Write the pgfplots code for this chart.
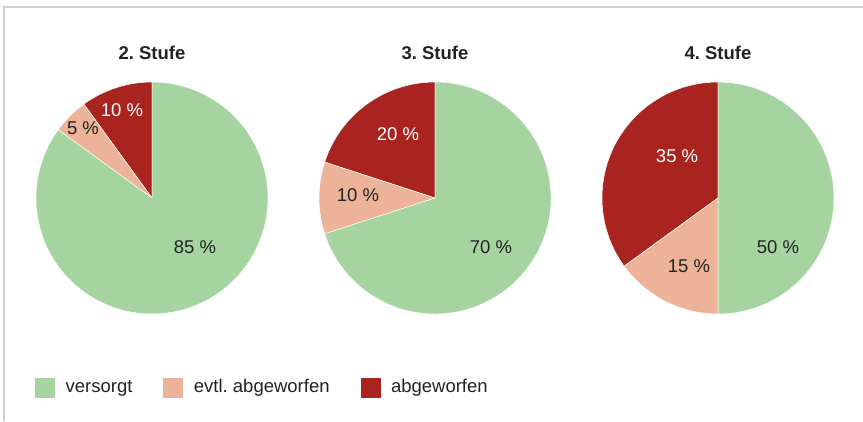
\documentclass[border=0pt]{standalone}
\usepackage{pgfplots}
\pgfplotsset{compat=1.18}
\usepackage{pgfplotstable}
\usepackage{fontspec}
\setmainfont{Liberation Sans}

\definecolor{cGreen}{HTML}{A6D4A0}
\definecolor{cSalmon}{HTML}{EDB398}
\definecolor{cRed}{HTML}{AA241F}
\definecolor{cText}{HTML}{222222}
\definecolor{cFrame}{HTML}{CFCFCF}

% shares in percent, one row per pie
\pgfplotstableread{
stufe versorgt evtl abgew
2 85 5 10
3 70 10 20
4 50 15 35
}\pies

\newcommand{\R}{116pt}
% wedges start at 12 o'clock: abgeworfen, evtl. abgeworfen, versorgt (counter-clockwise)
\newcommand{\pieslices}[1]{%
  \pgfplotstablegetelem{#1}{abgew}\of\pies
  \pgfmathsetmacro{\angA}{90+3.6*\pgfplotsretval}%
  \pgfplotstablegetelem{#1}{evtl}\of\pies
  \pgfmathsetmacro{\angB}{\angA+3.6*\pgfplotsretval}%
  \filldraw[fill=cRed, draw=white, line width=0.5pt] (axis cs:0,0) -- ++(90:\R)
    arc[start angle=90, end angle=\angA, radius=\R] -- cycle;
  \filldraw[fill=cSalmon, draw=white, line width=0.5pt] (axis cs:0,0) -- ++(\angA:\R)
    arc[start angle=\angA, end angle=\angB, radius=\R] -- cycle;
  \filldraw[fill=cGreen, draw=white, line width=0.5pt] (axis cs:0,0) -- ++(\angB:\R)
    arc[start angle=\angB, end angle=450, radius=\R] -- cycle;
}

\pgfplotsset{
  pie/.style={
    x=\R, y=\R, xmin=-1, xmax=1, ymin=-1, ymax=1,
    hide axis, clip=false, anchor=origin,
    title style={font=\bfseries, text=cText, at={(0.5,1)}, anchor=base, yshift=17pt},
  },
}
\tikzset{
  lbl/.style={text=cText, inner sep=0pt},
  lblw/.style={text=white, inner sep=0pt},
}

\begin{document}
\frenchspacing
\fontsize{18.5}{22}\selectfont
\begin{tikzpicture}
\useasboundingbox (0,0) rectangle (863pt,-421pt);
\draw[cFrame, line width=1.3pt] (4pt,-421pt) -- (4pt,-7pt) -- (863pt,-7pt);

\begin{axis}[pie, at={(152pt,-198pt)}, title={2. Stufe},
  legend columns=3,
  legend style={at={(-0.004,-0.317)}, anchor=west, draw=none, fill=none,
    inner sep=0pt, nodes={inner sep=0pt, text=cText},
    /tikz/every odd column/.append style={column sep=11pt},
    /tikz/every even column/.append style={column sep=31pt}},
]
  \addlegendimage{legend image code/.code={\fill[cGreen] (0pt,-9.5pt) rectangle (19pt,9.5pt);}}
  \addlegendentry{versorgt}
  \addlegendimage{legend image code/.code={\fill[cSalmon] (0pt,-9.5pt) rectangle (19pt,9.5pt);}}
  \addlegendentry{evtl. abgeworfen}
  \addlegendimage{legend image code/.code={\fill[cRed] (0pt,-9.5pt) rectangle (19pt,9.5pt);}}
  \addlegendentry{abgeworfen}
  \pgfplotsextra{\pieslices{0}}
  \node[lbl] at (axis cs:0.371,-0.422) {85 \%};
  \node[lbl] at (axis cs:-0.595,0.603) {5 \%};
  \node[lblw] at (axis cs:-0.259,0.759) {10 \%};
\end{axis}

\begin{axis}[pie, at={(435pt,-198pt)}, title={3. Stufe}]
  \pgfplotsextra{\pieslices{1}}
  \node[lbl] at (axis cs:0.483,-0.422) {70 \%};
  \node[lbl] at (axis cs:-0.664,0.026) {10 \%};
  \node[lblw] at (axis cs:-0.319,0.552) {20 \%};
\end{axis}

\begin{axis}[pie, at={(718pt,-198pt)}, title={4. Stufe}]
  \pgfplotsextra{\pieslices{2}}
  \node[lbl] at (axis cs:0.517,-0.422) {50 \%};
  \node[lbl] at (axis cs:-0.25,-0.586) {15 \%};
  \node[lblw] at (axis cs:-0.353,0.362) {35 \%};
\end{axis}
\end{tikzpicture}
\end{document}
